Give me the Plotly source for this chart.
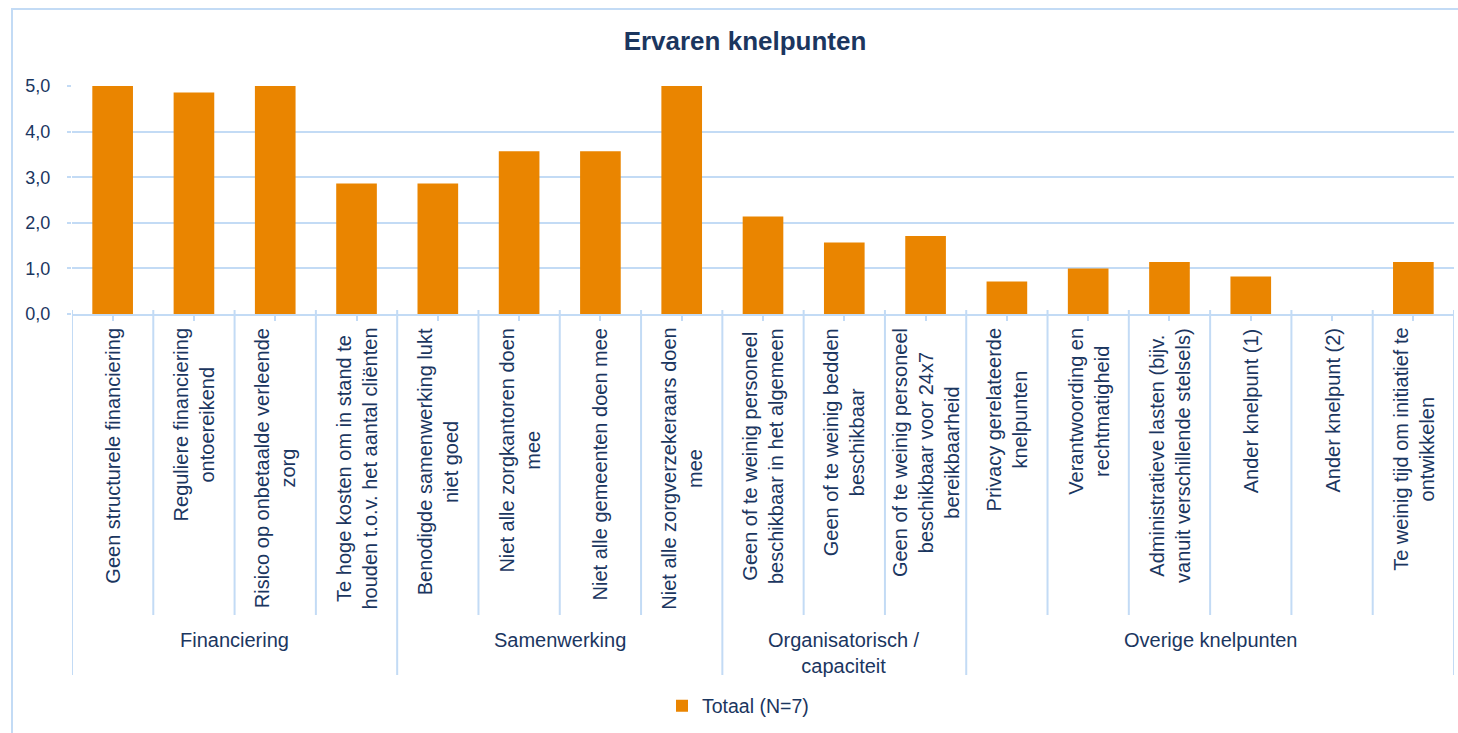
import plotly.graph_objects as go

# ---- data ----
categories = [
    "Geen structurele financiering",
    "Reguliere financiering<br>ontoereikend",
    "Risico op onbetaalde verleende<br>zorg",
    "Te hoge kosten om in stand te<br>houden t.o.v. het aantal cliënten",
    "Benodigde samenwerking lukt<br>niet goed",
    "Niet alle zorgkantoren doen<br>mee",
    "Niet alle gemeenten doen mee",
    "Niet alle zorgverzekeraars doen<br>mee",
    "Geen of te weinig personeel<br>beschikbaar in het algemeen",
    "Geen of te weinig bedden<br>beschikbaar",
    "Geen of te weinig personeel<br>beschikbaar voor 24x7<br>bereikbaarheid",
    "Privacy gerelateerde<br>knelpunten",
    "Verantwoording en<br>rechtmatigheid",
    "Administratieve lasten (bijv.<br>vanuit verschillende stelsels)",
    "Ander knelpunt (1)",
    "Ander knelpunt (2)",
    "Te weinig tijd om initiatief te<br>ontwikkelen",
]
values = [5.0, 4.86, 5.0, 2.86, 2.86, 3.57, 3.57, 5.0, 2.14, 1.57, 1.71,
          0.71, 1.0, 1.14, 0.82, 0.0, 1.14]
groups = ["Financiering", "Samenwerking", "Organisatorisch /<br>capaciteit",
          "Overige knelpunten"]
group_sizes = [4, 4, 3, 6]
series_name = "Totaal (N=7)"
y_ticks = [0, 1, 2, 3, 4, 5]

# ---- style ----
NAVY = "#1B365F"
GRID = "#C3DBF5"
BAR = "#EA8500"
FONT = "Liberation Sans, Arial, sans-serif"
W, H = 1458, 733
ML, MR, MT, MB = 72, 4, 86, 419
PH = H - MT - MB


def py(pix):
    """screen pixel y -> paper y"""
    return (H - MB - pix) / PH


def px(pix):
    return (pix - ML) / (W - ML - MR)


fig = go.Figure()
fig.add_trace(go.Bar(
    x=categories, y=values, name=series_name,
    marker=dict(color=BAR, line=dict(width=0)),
    showlegend=True,
))

annotations = []
for c in categories:
    annotations.append(dict(
        x=c, xref="x", y=py(326), yref="paper",
        text=c, textangle=-90, showarrow=False,
        xanchor="center", yanchor="top", align="center",
        font=dict(family=FONT, size=20, color=NAVY),
    ))

shapes = []
start = 0
for g, n in zip(groups, group_sizes):
    annotations.append(dict(
        x=start + (n - 1) / 2, xref="x", y=py(627), yref="paper",
        text=g, showarrow=False, xanchor="center", yanchor="top",
        align="center", font=dict(family=FONT, size=20, color=NAVY),
    ))
    start += n

boundaries = {0}
acc = 0
for n in group_sizes:
    acc += n
    boundaries.add(acc)
for i in range(len(categories) + 1):
    long_line = i in boundaries
    shapes.append(dict(
        type="line", xref="x", yref="paper",
        x0=i - 0.5, x1=i - 0.5, y0=py(310), y1=py(675 if long_line else 615),
        line=dict(color=GRID, width=2),
    ))

# outer chart frame (left and top edges visible)
shapes.append(dict(
    type="rect", xref="paper", yref="paper",
    x0=px(12), x1=px(W + 20), y0=py(H + 20), y1=py(9),
    line=dict(color=GRID, width=2), fillcolor="rgba(0,0,0,0)", layer="below",
))

fig.update_layout(
    width=W, height=H, autosize=False,
    margin=dict(l=ML, r=MR, t=MT, b=MB, pad=0),
    paper_bgcolor="white", plot_bgcolor="white",
    separators=",.",
    font=dict(family=FONT, color=NAVY),
    title=dict(
        text="Ervaren knelpunten", x=745 / W, xanchor="center", xref="container",
        y=1 - 41 / H, yanchor="middle", yref="container",
        font=dict(family=FONT, size=26, color=NAVY, weight=700),
    ),
    bargap=0.5,
    xaxis=dict(
        type="category", showticklabels=False, showgrid=False, zeroline=False,
        showline=True, linecolor=GRID, linewidth=2,
        ticks="outside", ticklen=5, tickcolor=GRID, tickwidth=2,
        range=[-0.5, len(categories) - 0.5], fixedrange=True,
    ),
    yaxis=dict(
        range=[0, 5], tickvals=y_ticks, tickformat=".1f",
        showgrid=True, gridcolor=GRID, gridwidth=2, zeroline=False,
        showline=False, ticks="outside", ticklen=4, tickcolor=GRID, tickwidth=2,
        ticklabelstandoff=13, fixedrange=True,
        tickfont=dict(family=FONT, size=18, color=NAVY),
    ),
    legend=dict(
        orientation="h", x=px(662), xanchor="left", y=py(706), yanchor="middle",
        font=dict(family=FONT, size=19.5, color=NAVY), bgcolor="rgba(0,0,0,0)",
    ),
    annotations=annotations,
    shapes=shapes,
)

fig.write_html("out.html", config={"displayModeBar": False},
               post_script="document.body.style.margin='0';")
